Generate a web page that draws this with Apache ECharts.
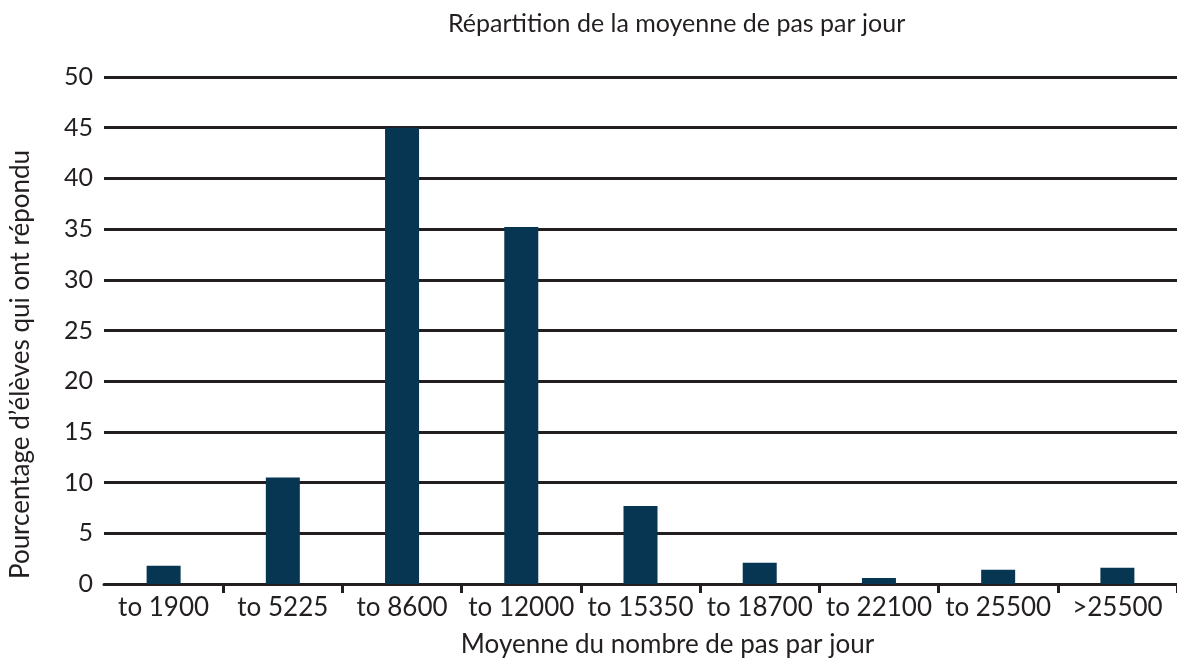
<!DOCTYPE html>
<html>
<head>
<meta charset="utf-8">
<script src="https://cdn.jsdelivr.net/npm/echarts@6/dist/echarts.min.js"></script>
<style>
html,body{margin:0;padding:0;background:#fff;}
#chart{width:1177px;height:666px;}
</style>
</head>
<body>
<div id="chart"></div>
<script>
const categories = ['to 1900','to 5225','to 8600','to 12000','to 15350','to 18700','to 22100','to 25500','>25500'];
const values = [1.8, 10.5, 45.0, 35.2, 7.7, 2.1, 0.6, 1.4, 1.6];
const titleText = 'Répartition de la moyenne de pas par jour';
const xAxisName = 'Moyenne du nombre de pas par jour';
const yAxisName = 'Pourcentage d\u2019élèves qui ont répondu';

const FONT = 'Lato';
const chart = echarts.init(document.getElementById('chart'));
chart.setOption({
  backgroundColor: '#fff',
  animation: false,
  title: {
    text: titleText,
    left: 443,
    top: 6,
    textStyle: {fontFamily: FONT, fontSize: 25, fontWeight: 'normal', color: '#231f20'}
  },
  grid: {left: 101, right: -5, top: 77, bottom: 82, containLabel: false},
  xAxis: {
    type: 'category',
    data: categories,
    boundaryGap: true,
    axisLine: {show: true, lineStyle: {color: '#231f20', width: 3}},
    axisTick: {show: true, length: 9, inside: false, interval: function (i) { return i !== 0; }, lineStyle: {color: '#231f20', width: 3}},
    axisLabel: {fontFamily: FONT, fontSize: 26, color: '#231f20', margin: 11, interval: 0},
    name: xAxisName,
    nameLocation: 'middle',
    nameGap: 48,
    nameTextStyle: {fontFamily: FONT, fontSize: 26, color: '#231f20', padding: [0, 0, 0, 54]}
  },
  yAxis: {
    type: 'value',
    min: 0, max: 50, interval: 5,
    axisLine: {show: false},
    axisTick: {show: false},
    axisLabel: {fontFamily: FONT, fontSize: 25, color: '#231f20', margin: 11},
    splitLine: {show: true, lineStyle: {color: '#231f20', width: 3}},
    name: yAxisName,
    nameLocation: 'middle',
    nameGap: 70,
    nameRotate: 90,
    nameTextStyle: {fontFamily: FONT, fontSize: 26, color: '#231f20', padding: [0, 68, 0, 0]}
  },
  series: [{
    type: 'bar',
    data: values,
    barWidth: 34,
    itemStyle: {color: '#063652'},
    z: 1
  }]
});
</script>
</body>
</html>
